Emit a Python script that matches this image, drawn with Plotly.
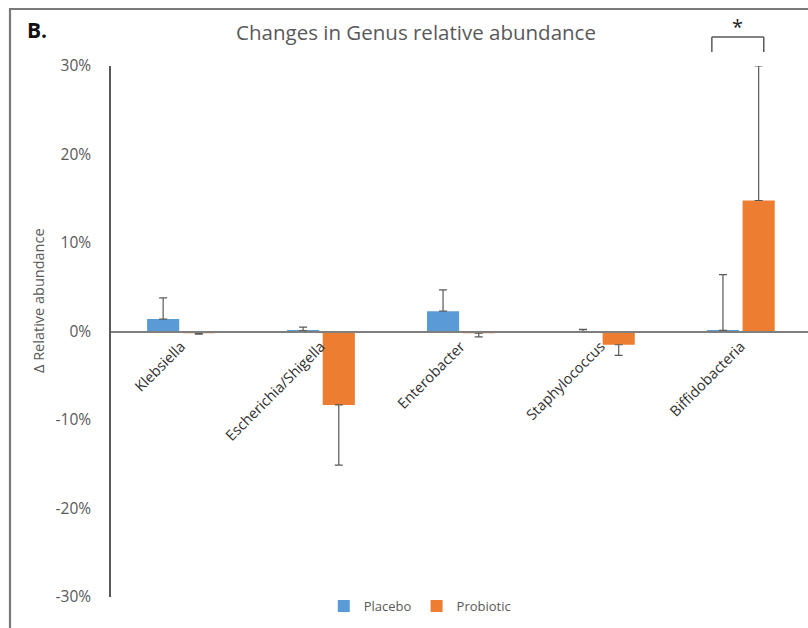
import plotly.graph_objects as go

# Genus-level change in relative abundance (fraction), mean and one-sided SD
categories = ["Klebsiella", "Escherichia/Shigella", "Enterobacter",
              "Staphylococcus", "Biffidobacteria"]
placebo = [0.014, 0.001, 0.023, 0.0003, 0.0012]
placebo_err = [0.024, 0.004, 0.024, 0.002, 0.063]
probiotic = [-0.002, -0.083, -0.002, -0.015, 0.148]
probiotic_err = [0.001, 0.068, 0.004, 0.012, 0.152]

y_ticks = [-0.3, -0.2, -0.1, 0.0, 0.1, 0.2, 0.3]
y_tick_labels = ["-30%", "-20%", "-10%", "0%", "10%", "20%", "30%"]

BLUE = "#5B9BD5"
ORANGE = "#ED7D31"
GREY = "#595959"
FONT = "Open Sans"

W, H = 808, 628
ML, MR, MT, MB = 111, 0, 66, 31
PW, PH = W - ML - MR, H - MT - MB


def px_to_paper(px, py):
    """Page pixel position -> paper coordinates of the plot area."""
    return (px - ML) / PW, (H - MB - py) / PH


def one_sided(values, errs):
    """Error bar only in the direction the bar points."""
    up = [e if v >= 0 else 0 for v, e in zip(values, errs)]
    down = [e if v < 0 else 0 for v, e in zip(values, errs)]
    return dict(type="data", symmetric=False, array=up, arrayminus=down,
                color=GREY, thickness=1.2, width=4)


fig = go.Figure()
fig.add_trace(go.Bar(name="Placebo", x=categories, y=placebo,
                     marker=dict(color=BLUE, line=dict(width=0)),
                     error_y=one_sided(placebo, placebo_err)))
fig.add_trace(go.Bar(name="Probiotic", x=categories, y=probiotic,
                     marker=dict(color=ORANGE, line=dict(width=0)),
                     error_y=one_sided(probiotic, probiotic_err)))

fig.update_layout(
    width=W, height=H,
    margin=dict(l=ML, r=MR, t=MT, b=MB),
    paper_bgcolor="white", plot_bgcolor="white",
    barmode="group", bargap=0.49, bargroupgap=0.1,
    font=dict(family=FONT, color=GREY, size=13),
    title=dict(text="Changes in Genus relative abundance",
               x=416 / W, xanchor="center", y=1 - 33 / H, yanchor="middle",
               font=dict(family=FONT, size=20.5, color=GREY)),
    showlegend=True,
    legend=dict(orientation="h", x=0.443, xanchor="center",
                y=-0.017, yanchor="middle",
                font=dict(family=FONT, size=13, color=GREY),
                bgcolor="rgba(0,0,0,0)"),
    xaxis=dict(type="category", range=[-0.5, 4.48],
               anchor="free", position=0.5,
               showline=True, linecolor="#7f7f7f", linewidth=1.5,
               showgrid=False, zeroline=False, ticks="",
               tickangle=-45,
               tickfont=dict(family=FONT, size=14.5, color="#303030")),
    yaxis=dict(range=[-0.3, 0.3], tickvals=y_ticks, ticktext=y_tick_labels,
               showline=True, linecolor=GREY, linewidth=1.5,
               showgrid=False, zeroline=False, ticks="",
               ticklabelstandoff=15,
               tickfont=dict(family=FONT, size=15.5, color=GREY)),
)

# outer frame of the panel: top and left edges
(fx0, fy0), (fx1, fy1) = px_to_paper(10, 9), px_to_paper(W, H)
fig.add_shape(type="path", xref="paper", yref="paper", layer="above",
              path=f"M {fx1},{fy0} L {fx0},{fy0} L {fx0},{fy1}",
              line=dict(color="#7a7a7a", width=2.2))

# y-axis caption
cx, cy = px_to_paper(38, 301)
fig.add_annotation(text="Δ Relative abundance", textangle=-90,
                   xref="paper", yref="paper", x=cx, y=cy,
                   xanchor="center", yanchor="middle", showarrow=False,
                   font=dict(family=FONT, size=14.5, color=GREY))

# panel letter
bx, by = px_to_paper(25, 30)
fig.add_annotation(text="<b>B.</b>", xref="paper", yref="paper", x=bx, y=by,
                   xanchor="left", yanchor="middle", showarrow=False,
                   font=dict(family=FONT, size=21, color="#111111"))

# significance bracket over Biffidobacteria
bx0, bx1 = 4 - 0.207, 4 + 0.164
ytop, ybot = px_to_paper(0, 37)[1], px_to_paper(0, 52)[1]
for seg in [(bx0, ybot, bx0, ytop), (bx0, ytop, bx1, ytop), (bx1, ytop, bx1, ybot)]:
    fig.add_shape(type="line", xref="x", yref="paper",
                  x0=seg[0], y0=seg[1], x1=seg[2], y1=seg[3],
                  line=dict(color=GREY, width=1.5))
fig.add_annotation(text="*", xref="x", yref="paper",
                   x=(bx0 + bx1) / 2, y=px_to_paper(0, 27)[1],
                   xanchor="center", yanchor="middle", showarrow=False,
                   font=dict(family=FONT, size=20, color="#222222"))

fig.write_html("out.html")
